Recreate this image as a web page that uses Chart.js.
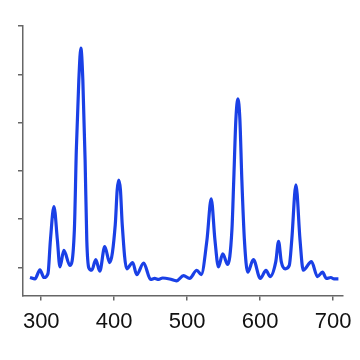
<!DOCTYPE html>
<html>
<head>
<meta charset="utf-8">
<script src="https://cdn.jsdelivr.net/npm/chart.js@4/dist/chart.umd.min.js"></script>
<style>
  html, body { margin: 0; padding: 0; background: #fff; }
  #wrap { width: 360px; height: 360px; }
</style>
</head>
<body>
<div id="wrap"><canvas id="spec"></canvas></div>
<script>
// wavelength (nm) and intensity
const wavelengths = [284.6, 291.4, 298.2, 303.7, 309.2, 312.6, 317.4, 322.1, 325.6, 331.0,
    339.2, 345.4, 348.1, 351.5, 354.3, 357.0, 360.1, 362.4, 365.2, 369.3,
    374.7, 380.2, 387.0, 393.8, 401.4, 404.1, 406.2, 408.5, 411.0, 417.1,
    425.3, 430.8, 440.3, 449.9, 455.4, 460.8, 466.3, 475.9, 485.4, 495.0,
    503.2, 513.2, 519.2, 527.1, 532.9, 538.0, 542.8, 548.7, 555.5, 561.3,
    563.8, 566.7, 569.5, 572.2, 574.9, 578.4, 582.9, 590.7, 600.2, 608.0,
    613.5, 621.4, 625.2, 628.9, 634.4, 639.9, 643.3, 649.0, 654.6, 659.0,
    670.3, 678.5, 685.4, 690.8, 696.8, 701.3, 707.2];
const intensity = [-0.21, -0.24, -0.05, -0.21, -0.13, 0.57, 1.26, 0.57, 0.01, 0.35,
    0.04, 0.78, 2.44, 3.88, 4.54, 3.88, 2.23, 0.57, -0.01, -0.06,
    0.16, -0.08, 0.43, 0.10, 0.88, 1.61, 1.81, 1.61, 0.88, -0.03,
    0.10, -0.15, 0.09, -0.25, -0.23, -0.25, -0.22, -0.24, -0.28, -0.17,
    -0.23, -0.06, -0.15, 0.57, 1.42, 0.57, 0.01, 0.28, 0.06, 0.78,
    1.81, 3.06, 3.49, 3.06, 1.81, 0.57, -0.10, 0.16, -0.23, -0.06,
    -0.19, 0.12, 0.54, 0.12, -0.03, 0.04, 0.57, 1.71, 0.57, -0.06,
    0.12, -0.19, -0.10, -0.23, -0.21, -0.24, -0.24];
const xTicks = [300, 400, 500, 600, 700];
const yTicks = [0, 1, 2, 3, 4, 5];

const points = wavelengths.map((w, i) => ({ x: w, y: intensity[i] }));
const axisGrey = '#666';

new Chart(document.getElementById('spec'), {
    type: 'line',
    data: {
        datasets: [{
            data: points,
            borderColor: '#1a40e6',
            borderWidth: 3.2,
            pointRadius: 0,
            cubicInterpolationMode: 'monotone',
            fill: false
        }]
    },
    options: {
        responsive: true,
        maintainAspectRatio: false,
        animation: false,
        layout: { padding: { left: 18, right: 16, top: 26, bottom: 17 } },
        plugins: { legend: { display: false }, tooltip: { enabled: false } },
        scales: {
            x: {
                type: 'linear',
                min: 275, max: 713.7,
                afterBuildTicks: s => { s.ticks = xTicks.map(v => ({ value: v })); },
                border: { color: axisGrey, width: 1.5 },
                grid: { drawOnChartArea: false, drawTicks: true, tickLength: 5, color: axisGrey, lineWidth: 1.5 },
                ticks: { color: '#111', padding: 8, maxRotation: 0,
                         font: { family: '"Liberation Sans", Arial, sans-serif', size: 22 } }
            },
            y: {
                min: -0.585, max: 5,
                afterBuildTicks: s => { s.ticks = yTicks.map(v => ({ value: v })); },
                border: { color: axisGrey, width: 1.5 },
                grid: { drawOnChartArea: false, drawTicks: true, tickLength: 5, color: axisGrey, lineWidth: 1.5 },
                ticks: { display: false }
            }
        }
    }
});
</script>
</body>
</html>
